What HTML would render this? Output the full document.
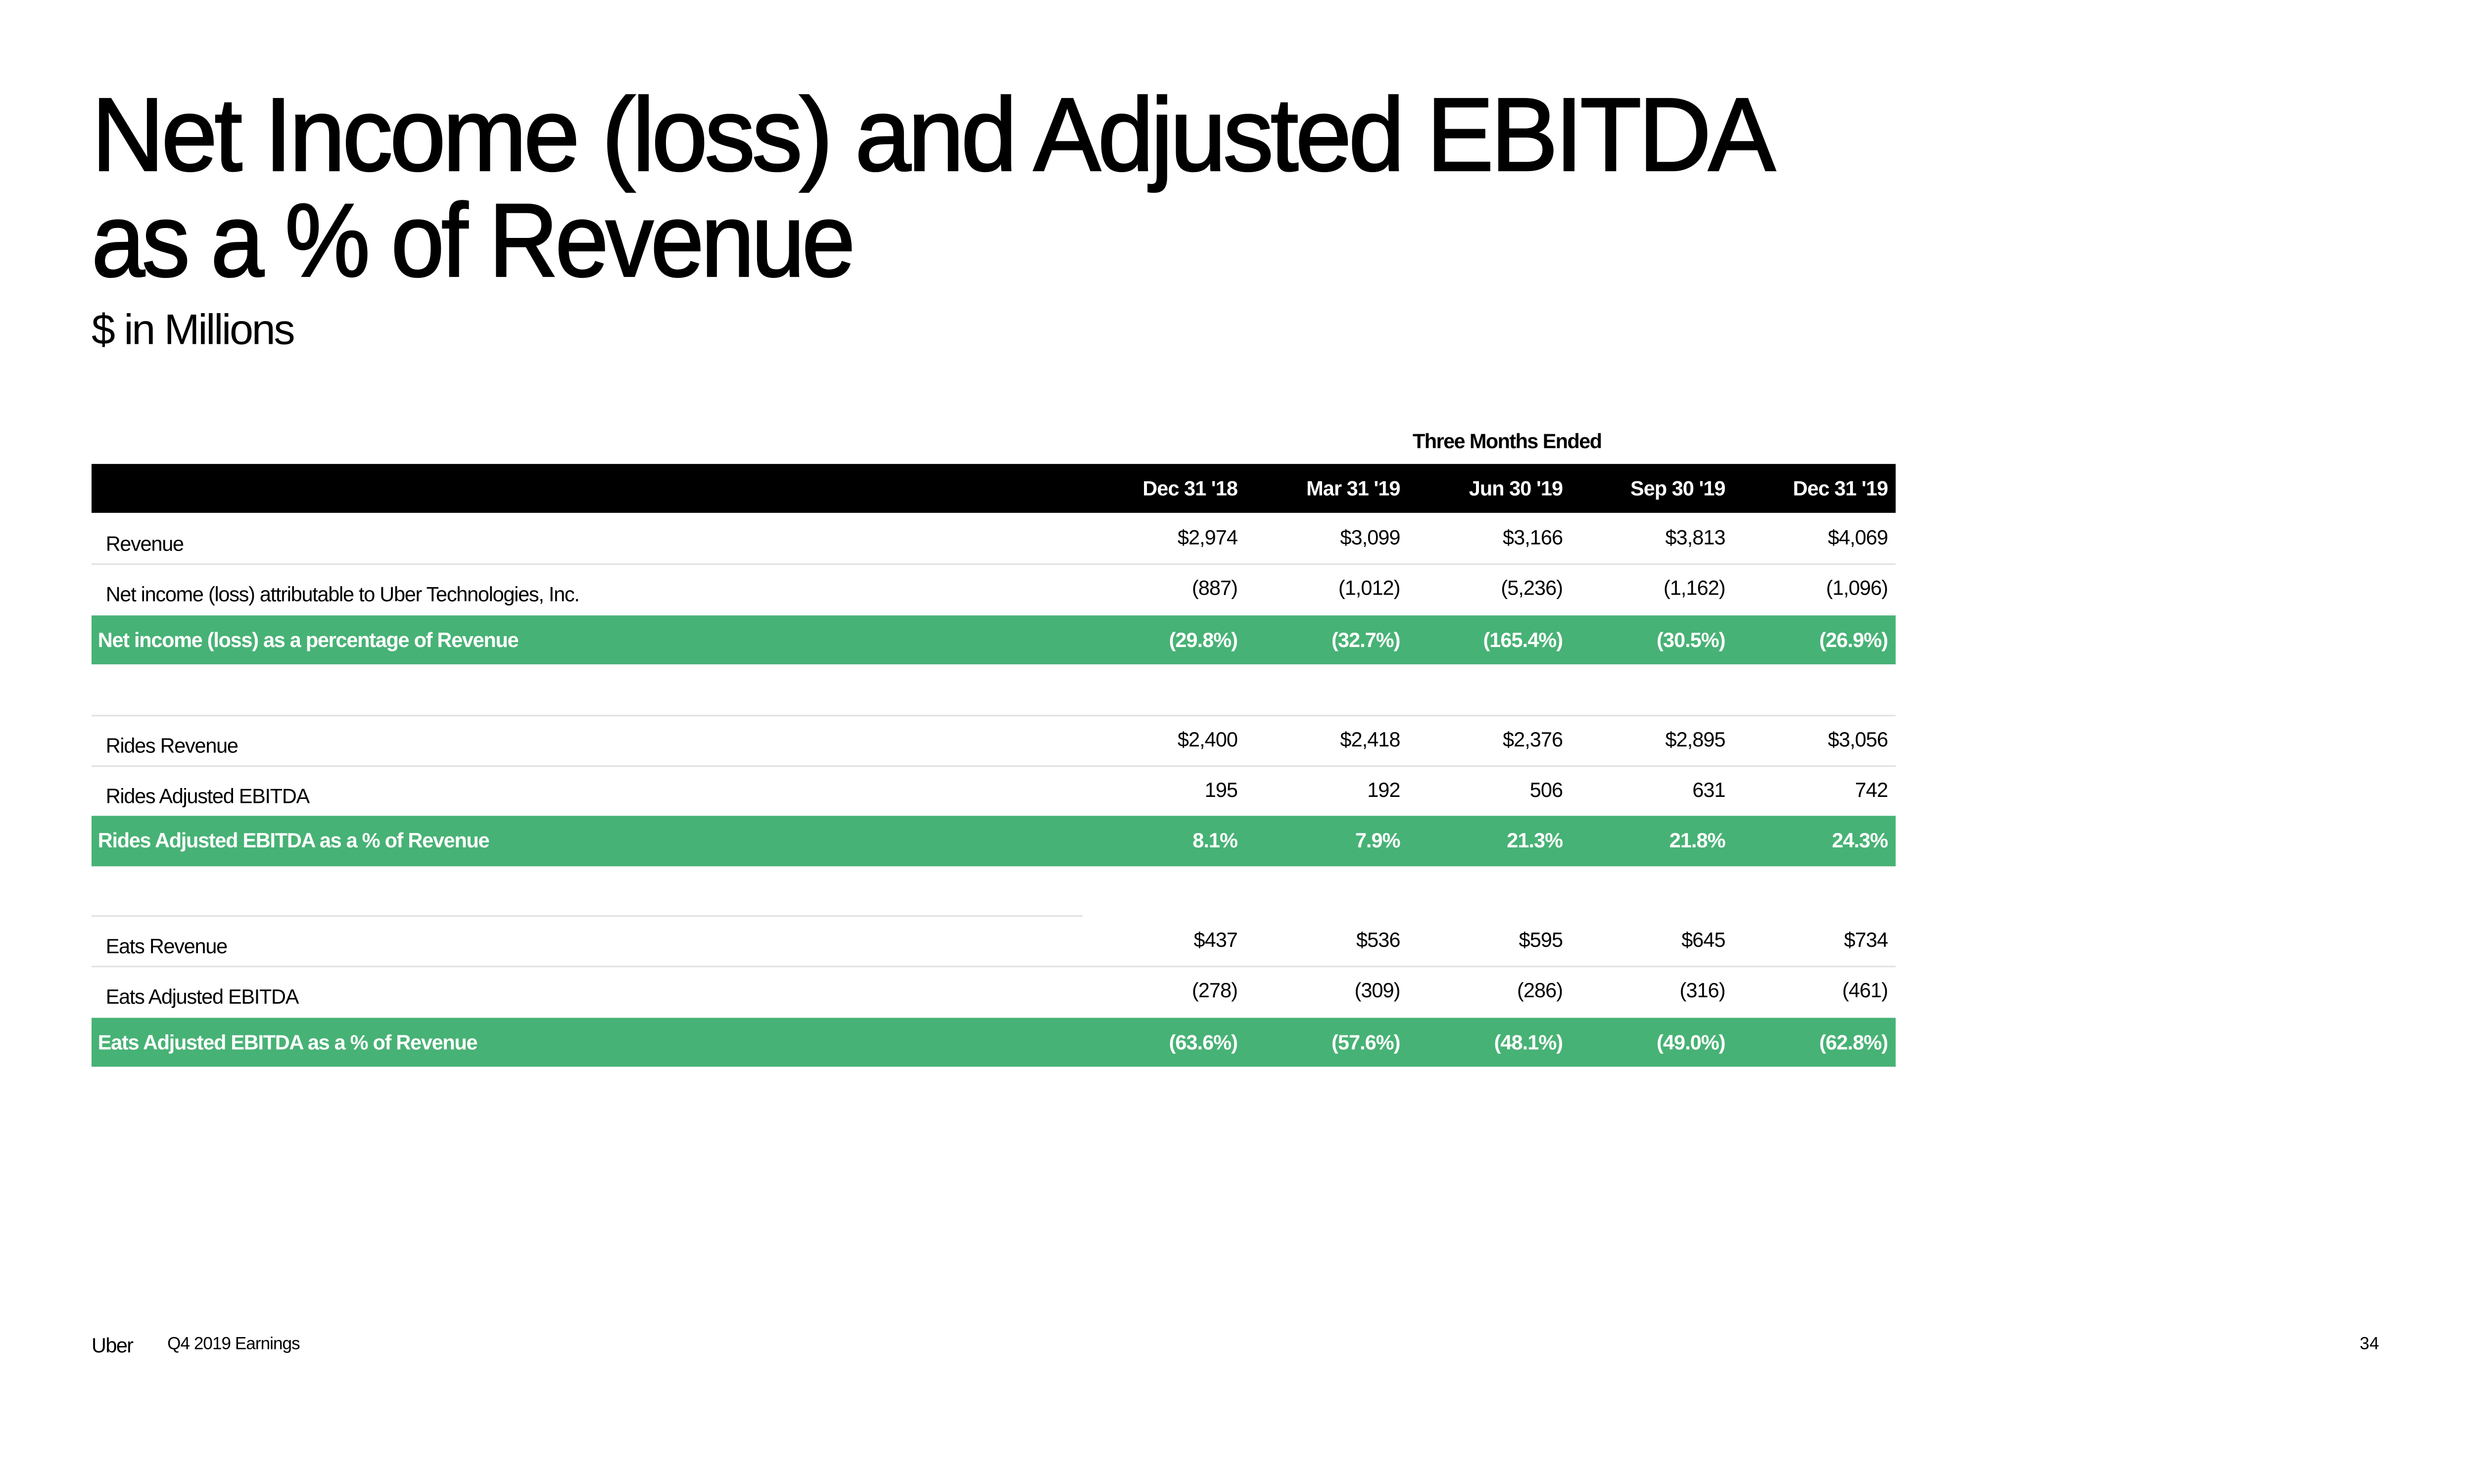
<!DOCTYPE html>
<html><head><meta charset="utf-8">
<style>
html,body{margin:0;padding:0;background:#fff;}
body{width:5333px;height:3000px;overflow:hidden;position:relative;}
#wrap{position:absolute;left:0;top:0;width:1672px;height:940px;transform:scale(3.19);transform-origin:0 0;font-family:"Liberation Sans",sans-serif;color:#000;}
.a{position:absolute;white-space:nowrap;}
.t{font-size:66px;line-height:66px;letter-spacing:-2px;transform-origin:0 50%;-webkit-text-stroke:1px #000;}
.row{position:absolute;left:58px;width:1143px;}
.lbl{position:absolute;left:9px;font-size:13px;letter-spacing:-0.4px;}
.val{position:absolute;font-size:13px;text-align:right;width:90px;letter-spacing:-0.3px;}
.green{background:#47b275;color:#fff;font-weight:bold;}
.line{position:absolute;height:1px;background:#e2e2e2;}
</style></head><body>
<div id="wrap">
<div class="a t fit" data-w="1065" style="left:58px;top:52px;">Net Income (loss) and Adjusted EBITDA</div>
<div class="a t fit" data-w="482" style="left:58px;top:119px;">as a % of Revenue</div>
<div class="a fit" data-w="128" style="left:58px;top:194px;font-size:27px;letter-spacing:-1px;transform-origin:0 50%;">$ in Millions</div>
<div class="a" style="left:895px;top:272px;font-size:13px;font-weight:bold;letter-spacing:-0.5px;">Three Months Ended</div>
<div id="table"></div>
<div class="a" style="left:58px;top:845px;font-size:13px;letter-spacing:-0.5px;">Uber</div>
<div class="a" style="left:106px;top:846px;font-size:11px;letter-spacing:-0.3px;">Q4 2019 Earnings</div>
<div class="a" style="left:1495px;top:846px;font-size:11px;">34</div>
</div>
<script>
const periods = ["Dec 31 '18","Mar 31 '19","Jun 30 '19","Sep 30 '19","Dec 31 '19"];
const revenue = ["$2,974","$3,099","$3,166","$3,813","$4,069"];
const netIncome = ["(887)","(1,012)","(5,236)","(1,162)","(1,096)"];
const netIncomePct = ["(29.8%)","(32.7%)","(165.4%)","(30.5%)","(26.9%)"];
const ridesRevenue = ["$2,400","$2,418","$2,376","$2,895","$3,056"];
const ridesEbitda = ["195","192","506","631","742"];
const ridesPct = ["8.1%","7.9%","21.3%","21.8%","24.3%"];
const eatsRevenue = ["$437","$536","$595","$645","$734"];
const eatsEbitda = ["(278)","(309)","(286)","(316)","(461)"];
const eatsPct = ["(63.6%)","(57.6%)","(48.1%)","(49.0%)","(62.8%)"];
const colRight = [784,887,990,1093,1196];
const rows = [
 {top:294,h:31,label:"",vals:periods,type:"header",name:"header-row"},
 {top:326,h:31,label:"Revenue",vals:revenue,type:"plain",name:"revenue-row"},
 {top:358,h:31,label:"Net income (loss) attributable to Uber Technologies, Inc.",vals:netIncome,type:"plain",name:"net-income-row"},
 {top:390,h:31,label:"Net income (loss) as a percentage of Revenue",vals:netIncomePct,type:"green",name:"net-income-pct-row"},
 {top:454,h:31,label:"Rides Revenue",vals:ridesRevenue,type:"plain",name:"rides-revenue-row"},
 {top:486,h:31,label:"Rides Adjusted EBITDA",vals:ridesEbitda,type:"plain",name:"rides-ebitda-row"},
 {top:517,h:32,label:"Rides Adjusted EBITDA as a % of Revenue",vals:ridesPct,type:"green",name:"rides-ebitda-pct-row"},
 {top:581,h:31,label:"Eats Revenue",vals:eatsRevenue,type:"plain",name:"eats-revenue-row"},
 {top:613,h:31,label:"Eats Adjusted EBITDA",vals:eatsEbitda,type:"plain",name:"eats-ebitda-row"},
 {top:645,h:31,label:"Eats Adjusted EBITDA as a % of Revenue",vals:eatsPct,type:"green",name:"eats-ebitda-pct-row"}
];
const lines=[[357,1143],[453,1143],[485,1143],[580,628],[612,1143]];
const tb=document.getElementById('table');
lines.forEach(l=>{const d=document.createElement('div');d.className='line';d.style.left='58px';d.style.top=l[0]+'px';d.style.width=l[1]+'px';


tb.appendChild(d);});
rows.forEach(r=>{
 const d=document.createElement('div');d.className='row'+(r.type==='green'?' green':'');
 d.style.top=r.top+'px';d.style.height=r.h+'px';
 if(r.type==='header'){d.style.background='#000';d.style.color='#fff';d.style.fontWeight='bold';}
 
 
 if(r.label){const l=document.createElement('div');l.className='lbl';l.textContent=r.label;
  l.style.top=(r.type==='plain'?r.h/2-5:r.h/2-8)+'px';
  if(r.type==='green')l.style.left='4px';
  
  
  d.appendChild(l);}
 r.vals.forEach((v,i)=>{const e=document.createElement('div');e.className='val';e.textContent=v;
  e.style.left=(colRight[i]-58-90)+'px';e.style.top=(r.type==='plain'?r.h/2-9:r.h/2-8)+'px';
  
  
  d.appendChild(e);});
 tb.appendChild(d);
});
document.querySelectorAll('.fit').forEach(el=>{const w=el.getBoundingClientRect().width/3.19;const t=+el.dataset.w;el.style.transform='scaleX('+(t/w)+')';});
</script>
</body></html>
